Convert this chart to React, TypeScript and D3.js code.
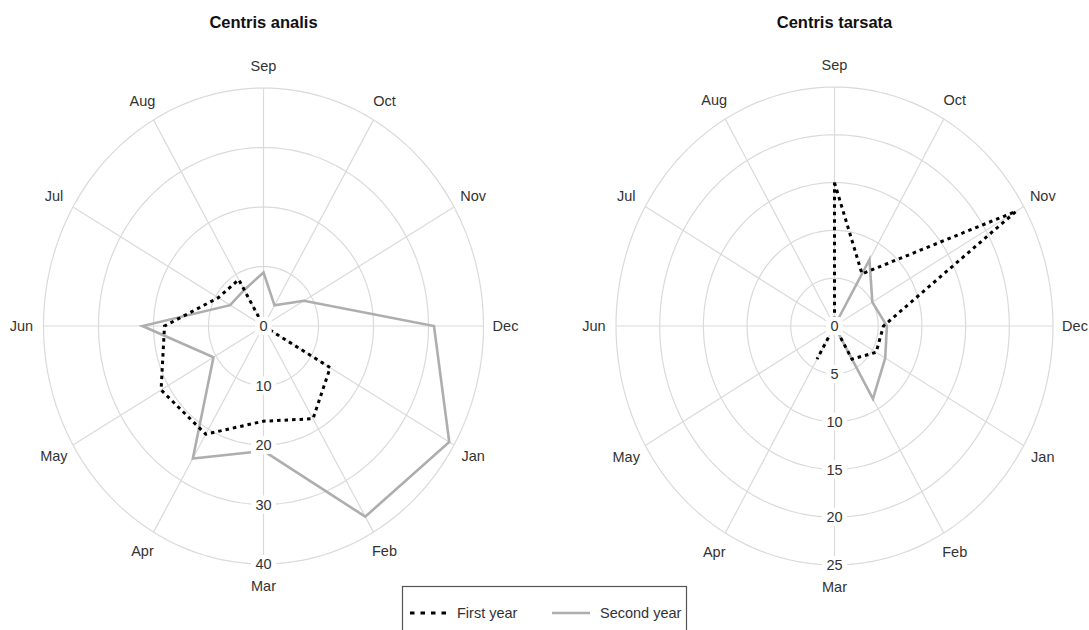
import * as d3 from 'd3';

const months = ['Sep', 'Oct', 'Nov', 'Dec', 'Jan', 'Feb', 'Mar', 'Apr', 'May', 'Jun', 'Jul', 'Aug'];

// Centris analis
const analisFirst = [0, 0, 0, 0, 14, 18, 16, 21, 21.5, 18, 9.5, 9];
const analisSecond = [9, 4, 8.5, 31, 39, 37, 21, 25.7, 10.5, 22, 7, 7];
const analisTicks = [0, 10, 20, 30, 40];

// Centris tarsata
const tarsataFirst = [15, 6.3, 24, 5.6, 5.5, 4, 0, 4, 0, 0, 0, 0];
const tarsataSecond = [0, 8, 5, 6, 6.7, 8.8, 0, 0, 0, 0, 0, 0];
const tarsataTicks = [0, 5, 10, 15, 20, 25];

const GRID = '#dadada';
const GRAY_LINE = '#aeaeae';
const TEXT = '#333333';
const FONT = 'Liberation Sans, Arial, sans-serif';

interface PanelProps {
  title: string;
  first: number[];
  second: number[];
  ticks: number[];
  cx: number;
  cy: number;
  rx: number;
  ry: number;
}

function RadarPanel({ title, first, second, ticks, cx, cy, rx, ry }: PanelProps) {
  const max = ticks[ticks.length - 1];
  const angle = d3.scaleBand<string>().domain(months).range([0, 2 * Math.PI]).align(0).paddingInner(0);
  const rX = d3.scaleLinear().domain([0, max]).range([0, rx]);
  const rY = d3.scaleLinear().domain([0, max]).range([0, ry]);

  const px = (m: string, v: number) => cx + rX(v) * Math.sin(angle(m) || 0);
  const py = (m: string, v: number) => cy - rY(v) * Math.cos(angle(m) || 0);

  const line = d3
    .line<number>()
    .x((v, i) => px(months[i], v))
    .y((v, i) => py(months[i], v))
    .curve(d3.curveLinearClosed);

  const ellipse = (v: number) => {
    const pts = d3.range(0, 361, 2).map((a) => {
      const t = (a * Math.PI) / 180;
      return [cx + rX(v) * Math.sin(t), cy - rY(v) * Math.cos(t)] as [number, number];
    });
    return d3.line()(pts) || '';
  };

  const labelOff = 22;

  return (
    <g>
      <text x={cx} y={28} textAnchor="middle" fontFamily={FONT} fontWeight="bold" fontSize={16.5} fill="#111">
        {title}
      </text>
      {/* rings */}
      {ticks.slice(1).map((t) => (
        <path key={`r${t}`} d={ellipse(t)} fill="none" stroke={GRID} strokeWidth={1.2} />
      ))}
      {/* spokes */}
      {months.map((m) => (
        <line key={`s${m}`} x1={cx} y1={cy} x2={px(m, max)} y2={py(m, max)} stroke={GRID} strokeWidth={1.2} />
      ))}
      {/* month labels */}
      {months.map((m) => {
        const a = angle(m) || 0;
        return (
          <text
            key={`l${m}`}
            x={cx + (rx + labelOff) * Math.sin(a)}
            y={cy - (ry + labelOff) * Math.cos(a)}
            dy="0.35em"
            textAnchor="middle"
            fontFamily={FONT}
            fontSize={14.5}
            fill={TEXT}
          >
            {m}
          </text>
        );
      })}
      {/* second year */}
      <path d={line(second) || ''} fill="none" stroke={GRAY_LINE} strokeWidth={2.6} strokeLinejoin="miter" />
      {/* first year */}
      <path d={line(first) || ''} fill="none" stroke="#000" strokeWidth={3} strokeDasharray="3.5 4" />
      {/* tick labels along Mar spoke */}
      {ticks.map((t) => {
        const y = cy + rY(t);
        const w = String(t).length * 8.5 + 8;
        return (
          <g key={`t${t}`}>
            <rect x={cx - w / 2} y={y - 9} width={w} height={18} fill="#fff" />
            <text x={cx} y={y} dy="0.36em" textAnchor="middle" fontFamily={FONT} fontSize={14.5} fill={TEXT}>
              {t}
            </text>
          </g>
        );
      })}
    </g>
  );
}

export default function App() {
  return (
    <svg
      width={1089}
      height={630}
      style={{ position: 'absolute', left: 0, top: 0, background: '#fff' }}
    >
      <rect width={1089} height={630} fill="#fff" />
      <RadarPanel
        title="Centris analis"
        first={analisFirst}
        second={analisSecond}
        ticks={analisTicks}
        cx={263.5}
        cy={326}
        rx={220}
        ry={238}
      />
      <RadarPanel
        title="Centris tarsata"
        first={tarsataFirst}
        second={tarsataSecond}
        ticks={tarsataTicks}
        cx={834.5}
        cy={326}
        rx={218.5}
        ry={239}
      />
      {/* legend */}
      <g>
        <rect x={402.5} y={586.5} width={284} height={60} fill="#fff" stroke="#555" strokeWidth={1.2} />
        <line x1={410} y1={613} x2={451} y2={613} stroke="#000" strokeWidth={3} strokeDasharray="4.5 6" />
        <text x={457} y={613} dy="0.35em" fontFamily={FONT} fontSize={14.5} fill={TEXT}>
          First year
        </text>
        <line x1={552} y1={613} x2={590} y2={613} stroke={GRAY_LINE} strokeWidth={2.6} />
        <text x={600} y={613} dy="0.35em" fontFamily={FONT} fontSize={14.5} fill={TEXT}>
          Second year
        </text>
      </g>
    </svg>
  );
}
